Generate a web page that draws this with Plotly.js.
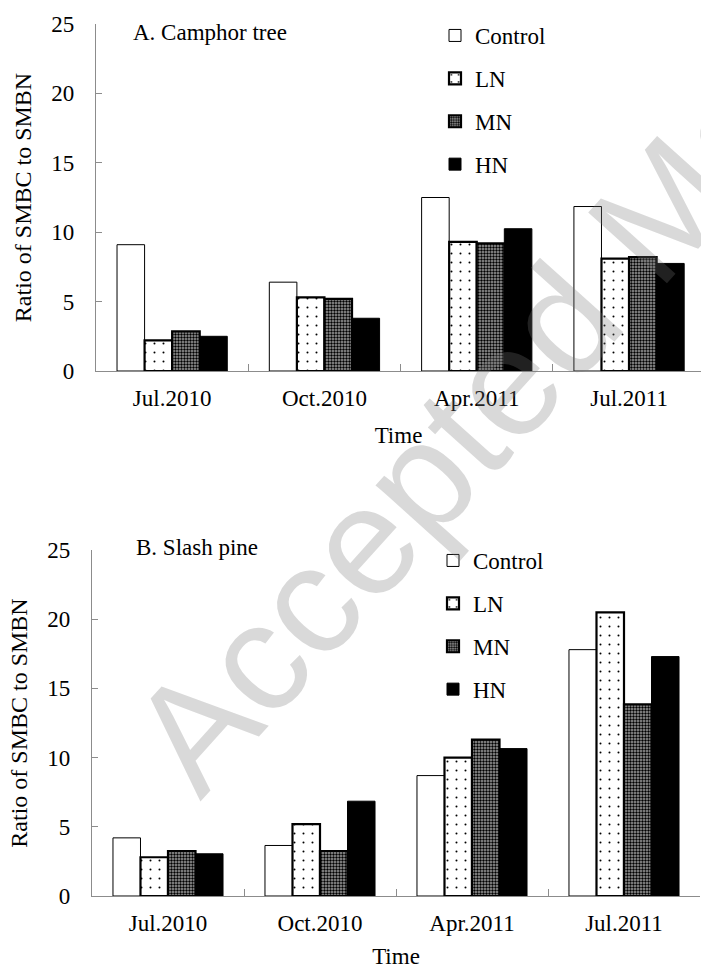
<!DOCTYPE html>
<html>
<head>
<meta charset="utf-8">
<script src="https://cdn.plot.ly/plotly-3.0.1.min.js"></script>
<style>html,body{margin:0;padding:0;background:#fff;}#chart{width:701px;height:969px;}</style>
</head>
<body>
<div id="chart"></div>
<script>
// ---- Data ----
const categories = ["Jul.2010", "Oct.2010", "Apr.2011", "Jul.2011"];
const seriesNames = ["Control", "LN", "MN", "HN"];

// A. Camphor tree
const camphorControl = [9.1, 6.4, 12.5, 11.85];
const camphorLN      = [2.2, 5.3, 9.3, 8.1];
const camphorMN      = [2.85, 5.2, 9.2, 8.2];
const camphorHN      = [2.5, 3.8, 10.25, 7.75];

// B. Slash pine
const pineControl = [4.2, 3.65, 8.7, 17.8];
const pineLN      = [2.8, 5.2, 10.0, 20.5];
const pineMN      = [3.25, 3.25, 11.3, 13.85];
const pineHN      = [3.05, 6.85, 10.65, 17.3];

const yTickVals = [0, 5, 10, 15, 20, 25];
const panelTitles = ["A. Camphor tree", "B. Slash pine"];
const yTitle = "Ratio of SMBC to SMBN";
const xTitle = "Time";
const watermark = "Accepted Manuscript";

// ---- Styles ----
const W = 701, H = 969;
const SERIF = "Liberation Serif";
const f = (s) => ({family: SERIF, size: s, color: "#000"});
const styles = [
  {color: "#ffffff", line: {color: "#000", width: 1}},
  {color: "#ffffff", line: {color: "#000", width: 2.2},
   pattern: {shape: ".", fgcolor: "#000", bgcolor: "#fff", size: 9, solidity: 0.04}},
  {color: "#ffffff", line: {color: "#000", width: 2.2},
   pattern: {shape: ".", fgcolor: "#000", bgcolor: "#a0a0a0", size: 3, solidity: 0.5}},
  {color: "#000000", line: {color: "#000", width: 1}}
];

function mk(values, i, xa, ya, legend) {
  return {
    type: "bar", x: categories, y: values, name: seriesNames[i],
    xaxis: xa, yaxis: ya, legend: legend, legendgroup: legend + i,
    marker: JSON.parse(JSON.stringify(styles[i])), hoverinfo: "skip"
  };
}
const camphorSeries = [camphorControl, camphorLN, camphorMN, camphorHN];
const pineSeries = [pineControl, pineLN, pineMN, pineHN];
const data = [];
camphorSeries.forEach((v, i) => data.push(mk(v, i, "x", "y", "legend")));
pineSeries.forEach((v, i) => data.push(mk(v, i, "x2", "y2", "legend2")));

const px = v => v / W, py = v => 1 - v / H;

function xax(d0, d1, r1, anchor) {
  return {
    showline: true, linecolor: "#8c8c8c", linewidth: 1.2, showgrid: false, zeroline: false,
    domain: [d0, d1], range: [-0.5, r1], anchor: anchor, type: "category",
    ticks: "inside", ticklen: 7, tickcolor: "#8c8c8c", tickson: "boundaries",
    tickfont: f(23), ticklabelstandoff: 6, fixedrange: true,
    title: {text: xTitle, font: f(23), standoff: 17}
  };
}
function yax(d0, d1, anchor) {
  return {
    showline: true, linecolor: "#8c8c8c", linewidth: 1.2, showgrid: false, zeroline: false,
    domain: [d0, d1], range: [0, 25], anchor: anchor, tickvals: yTickVals,
    ticks: "inside", ticklen: 6, tickcolor: "#8c8c8c",
    tickfont: f(23), ticklabelstandoff: 16, fixedrange: true,
    title: {text: yTitle, font: f(24), standoff: 12}
  };
}
function leg(x, y) {
  return {font: f(23), bgcolor: "rgba(0,0,0,0)", traceorder: "grouped",
    tracegroupgap: 10, xanchor: "left", yanchor: "top", itemclick: false, x: x, y: y};
}

const layout = {
  width: W, height: H,
  font: {family: SERIF, size: 23, color: "#000"},
  margin: {l: 0, r: 0, t: 0, b: 0},
  paper_bgcolor: "#fff", plot_bgcolor: "rgba(0,0,0,0)",
  barmode: "group", bargap: 0.276, bargroupgap: 0,
  showlegend: true,
  xaxis: xax(px(96), 1, -0.5 + (W - 96) / 152.3, "y"),
  yaxis: yax(py(371), py(24), "x"),
  xaxis2: xax(px(92), px(700), 3.5, "y2"),
  yaxis2: yax(py(896), py(550), "x2"),
  legend: leg(px(435), py(14)),
  legend2: leg(px(433), py(539)),
  annotations: [
    {text: panelTitles[0], xref: "paper", yref: "paper", x: px(131), y: py(32),
     xanchor: "left", yanchor: "middle", showarrow: false, font: f(23)},
    {text: panelTitles[1], xref: "paper", yref: "paper", x: px(134), y: py(547),
     xanchor: "left", yanchor: "middle", showarrow: false, font: f(23)},
    {text: watermark, xref: "paper", yref: "paper", x: px(642), y: py(232),
     xanchor: "center", yanchor: "middle", showarrow: false, textangle: -48,
     font: {family: "Liberation Sans", size: 154, color: "rgba(120,120,120,0.28)"}}
  ]
};

Plotly.newPlot("chart", data, layout, {displayModeBar: false, staticPlot: true});
</script>
</body>
</html>
